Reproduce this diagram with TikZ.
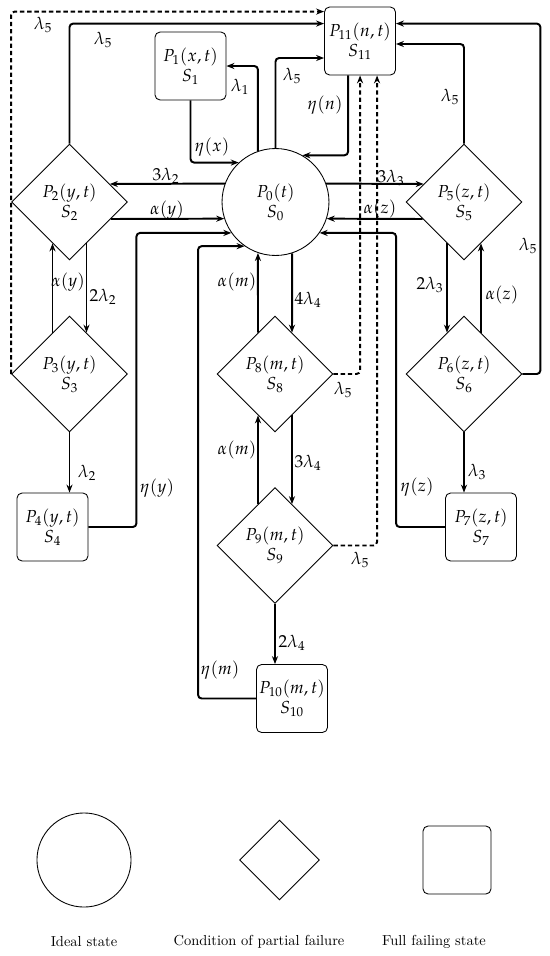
\documentclass[tikz,border=0pt]{standalone}
\usepackage{mathpazo}
\usetikzlibrary{shapes.geometric,arrows.meta,calc}
\begin{document}
\begin{tikzpicture}[x=0.69pt,y=-0.69pt,
  state/.style={font=\large, align=center, inner sep=0pt, line width=0.6pt, draw},
  ideal/.style={state, circle, minimum size=73.8pt},
  partial/.style={state, diamond, aspect=1, minimum width=80pt, minimum height=80pt},
  full/.style={state, rectangle, rounded corners=3.5pt, minimum width=49pt, minimum height=46.9pt},
  conn/.style={line width=1.35pt, rounded corners=2.5pt, -{Stealth[length=5.5pt,width=4.2pt]}},
  dconn/.style={conn, dash pattern=on 3pt off 2pt},
  lbl/.style={font=\large, inner sep=1pt},
  captxt/.style={font=\normalsize, inner sep=1pt}
]
\useasboundingbox (0,0) rectangle (550,956);

% states
\node[ideal] (P0) at (275.5,202) {$P_0(t)$\\$S_0$};
\node[full] (P1) at (190.5,66) {$P_1(x,t)$\\$S_1$};
\node[full] (P11) at (360,41) {$P_{11}(n,t)$\\$S_{11}$};
\node[partial] (P2) at (69.5,202) {$P_2(y,t)$\\$S_2$};
\node[partial] (P3) at (69.5,374) {$P_3(y,t)$\\$S_3$};
\node[full] (P4) at (52.5,527) {$P_4(y,t)$\\$S_4$};
\node[partial] (P5) at (464,202) {$P_5(z,t)$\\$S_5$};
\node[partial] (P6) at (464,374) {$P_6(z,t)$\\$S_6$};
\node[full] (P7) at (481,527) {$P_7(z,t)$\\$S_7$};
\node[partial] (P8) at (275,374) {$P_8(m,t)$\\$S_8$};
\node[partial] (P9) at (275,545.5) {$P_9(m,t)$\\$S_9$};
\node[full] (P10) at (292,698.5) {$P_{10}(m,t)$\\$S_{10}$};

% connectors
\draw[dconn] (P3.west) |- ($(P11.north west)+(0,5)$);
\draw[conn] (P2.north) |- ($(P11.north west)+(0,17)$);
\draw[conn] (P0.109) |- (P1.east);
\draw[conn] (P1.south) |- (P0.133);
\draw[conn] (P0.north) |- ($(P11.west)+(0,17)$);
\draw[conn] ($(P11.south west)+(24,0)$) |- (P0.60);
\draw[dconn] (P8.east) -| ($(P11.south west)+(36,0)$);
\draw[dconn] (P9.east) -| ($(P11.south west)+(53,0)$);
\draw[conn] (P0.20) -- ($(P5.west)+(18,-18)$);
\draw[conn] ($(P5.west)+(17,17)$) -- (P0.342);
\draw[conn] (P0.160) -- ($(P2.east)+(-18,-18)$);
\draw[conn] ($(P2.east)+(-17,17)$) -- (P0.198);
\draw[conn] (P4.east) -- ++(48,0) |- (P0.215);
\draw[conn] (P10.west) -- ++(-58,0) |- (P0.235);
\draw[conn] (P7.west) -- ++(-49,0) |- (P0.325);
\draw[conn] ($(P8.north)+(-17,17)$) -- (P0.251);
\draw[conn] (P0.288) -- ($(P8.north)+(17,17)$);
\draw[conn] ($(P9.north)+(-17,17)$) -- ($(P8.south)+(-17,-17)$);
\draw[conn] ($(P8.south)+(17,-17)$) -- ($(P9.north)+(17,17)$);
\draw[conn] (P9.south) -- (P9.south |- P10.north);
\draw[conn] (P3.south) -- (P3.south |- P4.north);
\draw[conn] ($(P2.south)+(17,-17)$) -- ($(P3.north)+(17,17)$);
\draw[conn] ($(P3.north)+(-17,17)$) -- ($(P2.south)+(-17,-17)$);
\draw[conn] ($(P5.south)+(-17,-17)$) -- ($(P6.north)+(-17,17)$);
\draw[conn] ($(P6.north)+(17,17)$) -- ($(P5.south)+(17,-17)$);
\draw[conn] (P6.south) -- (P6.south |- P7.north);
\draw[conn] (P5.north) |- ($(P11.east)+(0,3)$);
\draw[conn] (P6.east) -- ++(18,0) |- ($(P11.north east)+(0,17)$);

% labels
\node[lbl] (l1) at (43,25) {$\lambda_5$};
\node[lbl] (l2) at (103,40) {$\lambda_5$};
\node[lbl] (l3) at (240,87) {$\lambda_1$};
\node[lbl] (l4) at (212,147) {$\eta(x)$};
\node[lbl] (l5) at (292,76) {$\lambda_5$};
\node[lbl] (l6) at (325,105) {$\eta(n)$};
\node[lbl] (l7) at (166,176) {$3\lambda_2$};
\node[lbl] (l8) at (167,210) {$\alpha(y)$};
\node[lbl] (l9) at (391,178) {$3\lambda_3$};
\node[lbl] (l10) at (380,209) {$\alpha(z)$};
\node[lbl] (l11) at (450,97) {$\lambda_5$};
\node[lbl] (l12) at (528,246) {$\lambda_5$};
\node[lbl] (l13) at (68,282) {$\alpha(y)$};
\node[lbl] (l14) at (103,297) {$2\lambda_2$};
\node[lbl] (l15) at (87,473) {$\lambda_2$};
\node[lbl] (l16) at (157,488) {$\eta(y)$};
\node[lbl] (l17) at (237,282) {$\alpha(m)$};
\node[lbl] (l18) at (308,300) {$4\lambda_4$};
\node[lbl] (l19) at (343,390) {$\lambda_5$};
\node[lbl] (l20) at (237,450) {$\alpha(m)$};
\node[lbl] (l21) at (308,463) {$3\lambda_4$};
\node[lbl] (l22) at (360,560) {$\lambda_5$};
\node[lbl] (l23) at (292,643) {$2\lambda_4$};
\node[lbl] (l24) at (220,670) {$\eta(m)$};
\node[lbl] (l25) at (430,285) {$2\lambda_3$};
\node[lbl] (l26) at (502,295) {$\alpha(z)$};
\node[lbl] (l27) at (477,472) {$\lambda_3$};
\node[lbl] (l28) at (417,487) {$\eta(z)$};

% legend
\node[draw, circle, line width=0.6pt, minimum size=64.9pt] (LC) at (84,860) {};
\node[draw, diamond, aspect=1, line width=0.6pt, minimum width=55pt, minimum height=55pt, inner sep=0pt] (LD) at (279.5,860) {};
\node[draw, rounded corners=3.5pt, line width=0.6pt, minimum size=46.9pt] (LB) at (457,860) {};
\node[captxt] (T1) at (84,942) {Ideal state};
\node[captxt] (T2) at (259,942) {Condition of partial failure};
\node[captxt] (T3) at (434,942) {Full failing state};
\end{tikzpicture}
\end{document}
